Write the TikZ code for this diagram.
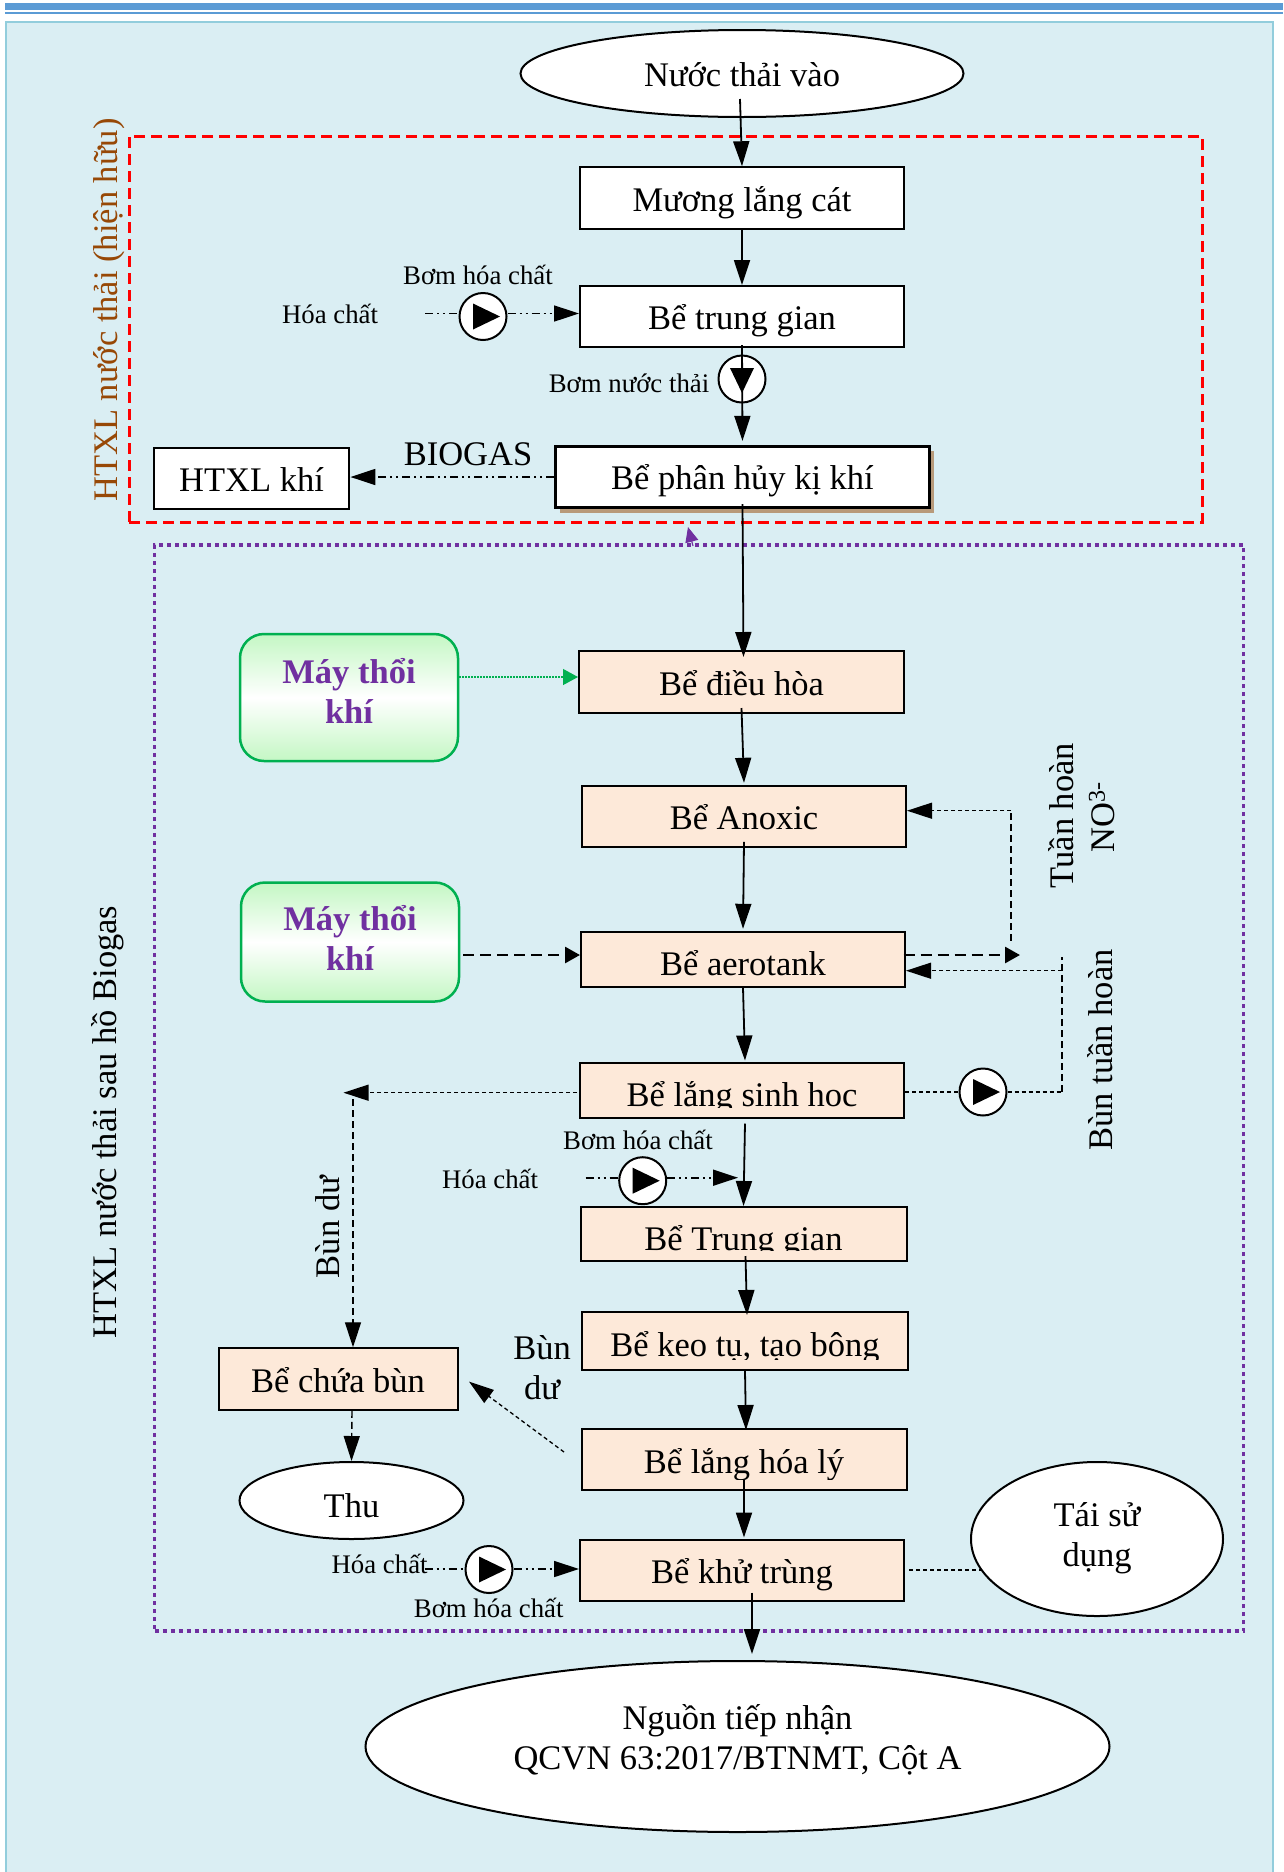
\documentclass[tikz,border=0pt]{standalone}
\usepackage{fontspec}
\setmainfont{Liberation Serif}
\usetikzlibrary{arrows.meta,shapes.geometric,shadows}
\definecolor{barblue}{HTML}{5B9BD5}
\definecolor{panelfill}{HTML}{DAEEF3}
\definecolor{paneledge}{HTML}{92CDDC}
\definecolor{peach}{HTML}{FDE9D9}
\definecolor{brownlabel}{HTML}{974806}
\definecolor{purplelabel}{HTML}{7030A0}
\definecolor{greenedge}{HTML}{00B050}
\definecolor{greenfade}{HTML}{C4F7C4}
\definecolor{shadowtan}{HTML}{B89A7A}
\tikzset{
	bigtext/.style={font=\fontsize{34.5}{40}\selectfont},
	smalltext/.style={font=\fontsize{26.8}{32}\selectfont,inner sep=0pt,anchor=base},
	tb/.style={text height={20pt+#1},text depth={20pt-#1}},
	wbox/.style={draw,line width=2pt,fill=white,inner sep=0pt,bigtext},
	pbox/.style={wbox,fill=peach},
	oval/.style={ellipse,draw,line width=2pt,fill=white,inner sep=0pt,bigtext,align=center},
	blower/.style={draw=greenedge,line width=2.5pt,rounded corners=24pt,top color=greenfade,bottom color=greenfade,middle color=white,
		minimum width=218pt,inner sep=0pt,align=center,text=purplelabel,font=\fontsize{34.5}{40}\selectfont\bfseries},
	pump/.style={circle,draw,line width=2pt,fill=white,minimum size=47pt,inner sep=0pt},
	sidetext/.style={bigtext,rotate=90,anchor=base,inner sep=0pt},
	cuttext/.style n args={3}{path picture={\clip (-400,-100) rectangle (400,#2); \node[bigtext,anchor=base,inner sep=0pt] at (0,#1) {#3};}},
	flow/.style={line width=1.8pt},
	dashdot/.style={line width=1.6pt,dash pattern=on 8pt off 4pt on 2pt off 4pt on 2pt off 4pt},
	hdash/.style={line width=1.3pt,dash pattern=on 4pt off 3pt},
	vdash/.style={line width=1.4pt,dash pattern=on 7pt off 4pt},
	thickdash/.style={line width=2.8pt,dash pattern=on 11pt off 6pt,>={Triangle[length=15pt,width=16pt]}},
}
\begin{document}
\begin{tikzpicture}[x=1pt,y=-1pt,>={Triangle[length=25pt,width=16pt]}]
\useasboundingbox (0,0) rectangle (1283,1872);
\fill[barblue] (5,3) rectangle (1283,10);
\fill[barblue] (5,12) rectangle (1283,14);
\draw[paneledge,fill=panelfill,line width=2.5pt] (6,22) rectangle (1273,1890);

\node (htxlcu) [draw=red,line width=3pt,dash pattern=on 11pt off 6pt,minimum width=1073pt,minimum height=386pt] at (665.5,329) {};
\node (htxlsau) [draw=purplelabel,line width=3.5pt,dash pattern=on 4pt off 4pt,minimum width=1089pt,minimum height=1086pt] at (699,1088) {};

\node (vao) [oval,tb=12.5pt,minimum width=443pt,minimum height=87pt] at (742,73.5) {Nước thải vào};
\node (muong) [wbox,tb=13pt,minimum width=324pt,minimum height=61.5pt] at (742,198) {Mương lắng cát};
\node (tga) [wbox,tb=12.5pt,minimum width=324pt,minimum height=61pt] at (742,316.5) {Bể trung gian};
\node (phanhuy) [wbox,tb=12pt,line width=2.8pt,minimum width=374pt,minimum height=61.5pt,drop shadow={shadow xshift=4pt,shadow yshift=-5pt,fill=shadowtan,opacity=1}] at (742.5,477) {Bể phân hủy kị khí};
\node (khi) [wbox,tb=12.5pt,line width=2.8pt,minimum width=195pt,minimum height=61pt] at (251.5,478.5) {HTXL khí};

\node (maya) [blower,tb=31.5pt,minimum height=127pt] at (349,697.5) {Máy thổi\\khí};
\node (mayb) [blower,tb=37.7pt,minimum height=119pt] at (350,942) {Máy thổi\\khí};

\node (dieuhoa) [pbox,tb=13pt,minimum width=325pt,minimum height=62pt] at (741.5,682) {Bể điều hòa};
\node (anoxic) [pbox,tb=13pt,minimum width=324pt,minimum height=61pt] at (744,816.3) {Bể Anoxic};
\node (aerotank) [pbox,tb=16pt,minimum width=324pt,minimum height=55pt] at (743,959.3) {Bể aerotank};
\node (langsinh) [pbox,minimum width=324pt,minimum height=55pt,cuttext={16}{17}{Bể lắng sinh học}] at (742,1090) {};
\node (tgb) [pbox,minimum width=326pt,minimum height=54pt,cuttext={16}{16.5}{Bể Trung gian}] at (743.5,1234) {};
\node (keotu) [pbox,minimum width=326pt,minimum height=58pt,cuttext={15}{18.5}{Bể keo tụ, tạo bông}] at (745,1341) {};
\node (langhoa) [pbox,minimum width=325pt,minimum height=61pt,cuttext={13.5}{19.5}{Bể lắng hóa lý}] at (744,1459.5) {};
\node (khutrung) [pbox,tb=13pt,minimum width=324pt,minimum height=61pt] at (742,1570) {Bể khử trùng};
\node (chuabun) [pbox,tb=13pt,minimum width=239pt,minimum height=61.5pt] at (338,1379) {Bể chứa bùn};

\node (thu) [oval,tb=17pt,minimum width=224pt,minimum height=77pt] at (351.5,1500.5) {Thu};
\node (taisd) [oval,tb=34pt,minimum width=252pt,minimum height=154pt] at (1097,1539) {Tái sử\\dụng};
\node (nguon) [oval,tb=25.5pt,minimum width=744pt,minimum height=171pt] at (737.5,1746.5) {Nguồn tiếp nhận\\QCVN 63:2017/BTNMT, Cột A};

\node (bomhca) [pump] at (483,316.5) {};
\node (bomnt) [pump] at (742,379) {};
\node (bombun) [pump] at (983,1092) {};
\node (bomhcb) [pump] at (642.7,1180.7) {};
\node (bomhcc) [pump] at (489,1569.5) {};

\node (hca) [smalltext] at (330,323) {Hóa chất};
\node (lbhca) [smalltext] at (478,284.6) {Bơm hóa chất};
\node (lbnt) [smalltext] at (629,392) {Bơm nước thải};
\node (hcb) [smalltext] at (490,1188.6) {Hóa chất};
\node (lbhcb) [smalltext] at (638,1149) {Bơm hóa chất};
\node (hcc) [smalltext] at (379.6,1573.6) {Hóa chất};
\node (lbhcc) [smalltext] at (488.7,1617) {Bơm hóa chất};
\node (biogas) [bigtext,anchor=base,inner sep=0pt] at (468,465) {BIOGAS};
\node (bun) [bigtext,anchor=base,inner sep=0pt] at (542,1359.5) {Bùn};
\node (du) [bigtext,anchor=base,inner sep=0pt] at (542,1399) {dư};

\node (tcu) [sidetext,text=brownlabel] at (117,310) {HTXL nước thải (hiện hữu)};
\node (tsau) [sidetext] at (116.7,1122) {HTXL nước thải sau hồ Biogas};
\node (tbundu) [sidetext] at (339,1227) {Bùn dư};
\node (tno) [sidetext] at (1073,815.6) {Tuần hoàn};
\node (tnob) [sidetext] at (1114,817) {NO\textsuperscript{3-}};
\node (tbun) [sidetext] at (1112,1050) {Bùn tuần hoàn};

\coordinate (vaostart) at (740,99);
\coordinate (aeroend) at (1020,955);
\coordinate (thstart) at (1011,940.7);
\coordinate (thcorner) at (1011,810.7);
\coordinate (btcorner) at (1062,1092);
\coordinate (bttop) at (1062,957);
\coordinate (btside) at (1062,970.7);
\coordinate (bdtip) at (343.5,1092.7);
\coordinate (bdtop) at (353,1099);
\coordinate (ldstart) at (564,1452);
\coordinate (ldtip) at (469,1381.6);
\coordinate (tsleft) at (981,1570);
\coordinate (ngtip) at (752,1654);
\coordinate (hcastart) at (425,313.5);
\coordinate (hcbstart) at (585.7,1177.7);
\coordinate (hcbtip) at (738,1177.7);
\coordinate (hccstart) at (424.5,1569);
\coordinate (muatip) at (688,527);
\coordinate (muastart) at (693,546);

\path[->,flow]
(vaostart) edge (muong.north)
(muong.south) edge (tga.north)
([yshift=3pt]tga.south) edge ([yshift=4pt]phanhuy.north)
([yshift=5pt]phanhuy.south) edge ([yshift=-7pt,xshift=2pt]dieuhoa.north)
([yshift=6pt]dieuhoa.south) edge ([yshift=2pt]anoxic.north)
([yshift=6pt]anoxic.south) edge ([yshift=2pt]aerotank.north)
(aerotank.south) edge ([xshift=3pt,yshift=1pt]langsinh.north)
([xshift=3pt,yshift=-5pt]langsinh.south) edge (tgb.north)
([xshift=2pt,yshift=6pt]tgb.south) edge ([xshift=2pt,yshift=-4pt]keotu.north)
(keotu.south) edge ([xshift=2pt,yshift=-2pt]langhoa.north)
([yshift=11pt]langhoa.south) edge ([xshift=2pt,yshift=1pt]khutrung.north)
([xshift=10pt,yshift=9pt]khutrung.south) edge (ngtip)
;
\draw[dashdot] (hcastart) -- (bomhca.west |- hcastart);
\draw[dashdot,->] (bomhca.east |- hcastart) -- (tga.west |- hcastart);
\draw[dashdot] (hcbstart) -- (bomhcb.west |- hcbstart);
\draw[dashdot,->] (bomhcb.east |- hcbstart) -- (hcbtip);
\draw[dashdot] (hccstart) -- (bomhcc.west |- hccstart);
\draw[dashdot,->] (bomhcc.east |- hccstart) -- (khutrung.west |- hccstart);
\draw[dashdot,->] (phanhuy.west) -- (phanhuy.west -| khi.east);

\draw[line width=1.2pt,greenedge,dash pattern=on 1.5pt off 1.5pt,>={Triangle[length=15pt,width=16pt]},->] ([yshift=20.5pt]maya.east) -- ([yshift=5pt]dieuhoa.west);
\draw[thickdash,->] ([xshift=3pt,yshift=-13pt]mayb.east) -- ([yshift=4.3pt]aerotank.west);
\draw[thickdash,->] ([xshift=-2.5pt,yshift=4.3pt]aerotank.east) -- (aeroend);
\draw[vdash] (thstart) -- (thcorner);
\draw[hdash,->] (thcorner) -- ([yshift=5.6pt]anoxic.east);
\draw[hdash] ([yshift=-2pt]langsinh.east) -- (bombun.west);
\draw[hdash] (bombun.east) -- (btcorner);
\draw[vdash] (btcorner) -- (bttop);
\draw[hdash,->] (btside) -- ([yshift=-11.4pt]aerotank.east);
\draw[hdash,->] ([xshift=-2pt,yshift=-2.7pt]langsinh.west) -- (bdtip);
\draw[vdash,->] (bdtop) -- (bdtop |- chuabun.north);
\draw[vdash,->] ([xshift=14pt]chuabun.south) -- (thu.north);
\draw[hdash,->] (ldstart) -- (ldtip);
\draw[hdash] ([xshift=4pt]khutrung.east) -- (tsleft);
\draw[purplelabel,line width=1.2pt,>={Triangle[length=15pt,width=13pt]},->] (muastart) -- (muatip);

\foreach \p in {bomhca,bombun,bomhcb,bomhcc}
	\fill ([shift={(-10pt,13pt)}]\p.center) -- ([shift={(-10pt,-13pt)}]\p.center) -- ([shift={(17pt,0pt)}]\p.center) -- cycle;
\fill ([shift={(-12pt,11pt)}]bomnt.center) -- ([shift={(12pt,11pt)}]bomnt.center) -- ([shift={(0pt,-14pt)}]bomnt.center) -- cycle;
\end{tikzpicture}
\end{document}
